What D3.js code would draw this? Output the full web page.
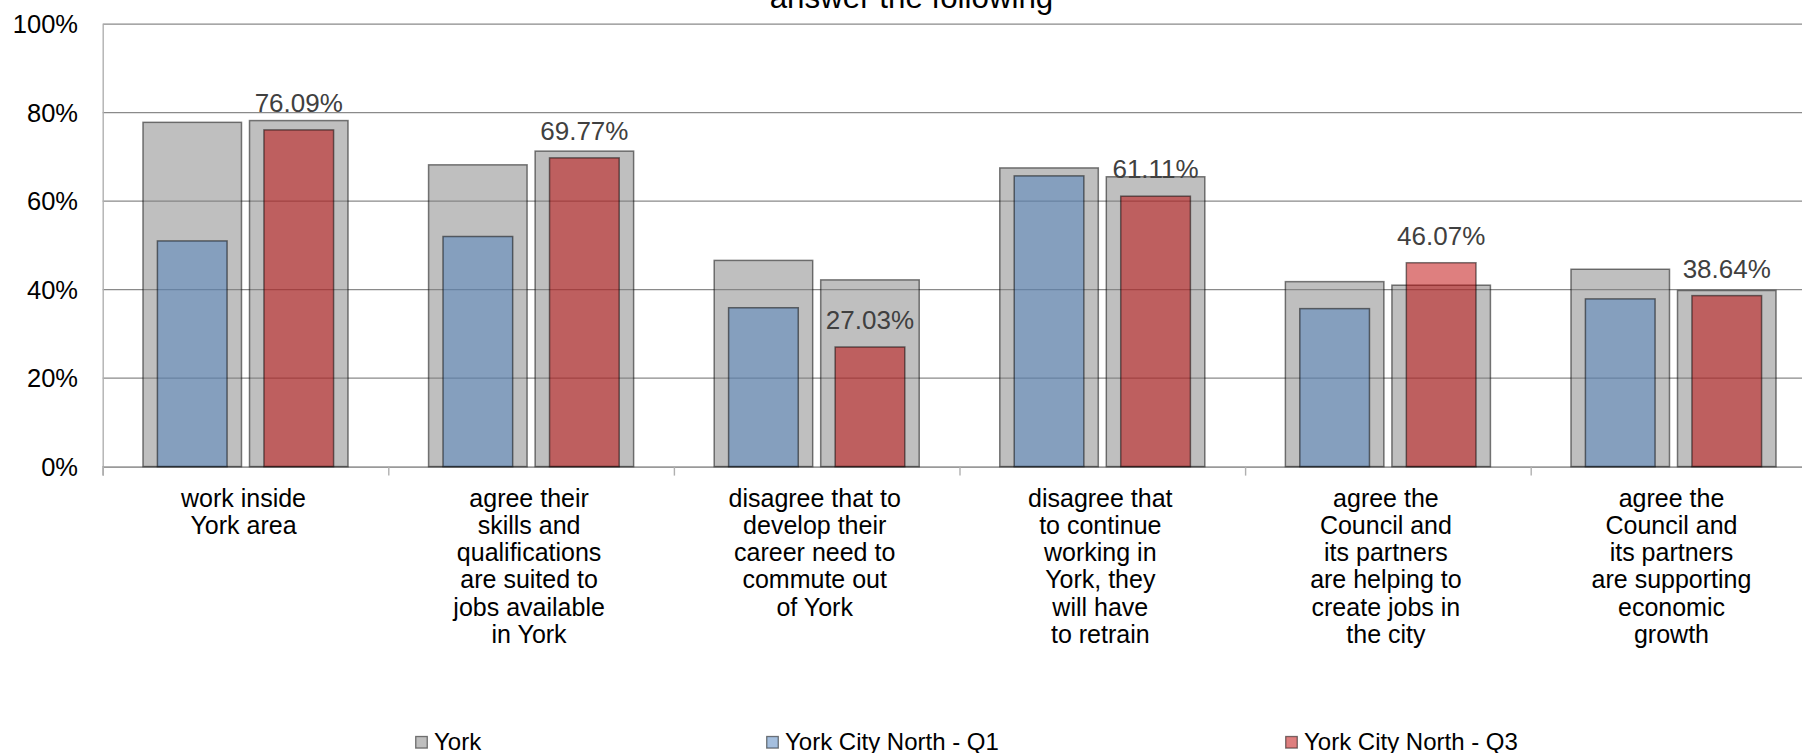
<!DOCTYPE html>
<html>
<head>
<meta charset="utf-8">
<script src="https://cdn.jsdelivr.net/npm/d3@7"></script>
<style>
  html, body { margin: 0; padding: 0; background: #fff; overflow: hidden; }
  svg { display: block; font-family: "Liberation Sans", Arial, sans-serif; }
</style>
</head>
<body>
<svg id="chart" width="1802" height="753"></svg>
<script>
// ---- data ----
const categories = [
  ["work inside", "York area"],
  ["agree their", "skills and", "qualifications", "are suited to", "jobs available", "in York"],
  ["disagree that to", "develop their", "career need to", "commute out", "of York"],
  ["disagree that", "to continue", "working in", "York, they", "will have", "to retrain"],
  ["agree the", "Council and", "its partners", "are helping to", "create jobs in", "the city"],
  ["agree the", "Council and", "its partners", "are supporting", "economic", "growth"]
];
const yorkQ1 = [77.8, 68.2, 46.6, 67.5, 41.8, 44.6];
const yorkQ3 = [78.2, 71.3, 42.2, 65.5, 41.0, 39.8];
const northQ1 = [51.0, 52.0, 35.9, 65.7, 35.7, 37.9];
const northQ3 = [76.09, 69.77, 27.03, 61.11, 46.07, 38.64];
const yTicks = [0, 20, 40, 60, 80, 100];
const seriesNames = ["York", "York City North - Q1", "York City North - Q3"];
const titleText = "answer the following";

// ---- layout ----
(function () {
const svg = d3.select("#chart");
const W = 1802, H = 753;
const pLeft = 102.7, pRight = 1816.3, pTop = 24.1, pBottom = 466.6;
const FONT = "'Liberation Sans', Arial, sans-serif";

const colors = {
  york: "#808080",
  q1: "#4c80be",
  q3: "#be0000"
};
const alpha = 0.5;

const idx = categories.map((d, i) => i);
const x0 = d3.scaleBand().domain(idx).range([pLeft, pRight]).padding(0);
const x1 = d3.scaleBand().domain(["Q1", "Q3"]).range([0, x0.bandwidth()])
  .paddingInner(0.075).paddingOuter(0.378);
const y = d3.scaleLinear().domain([0, 100]).range([pBottom, pTop]);

// title
svg.append("text")
  .attr("x", 911.5).attr("y", 7.5)
  .attr("text-anchor", "middle")
  .attr("font-size", 31.3).attr("fill", "#000")
  .text(titleText);

// gridlines
const grid = svg.append("g");
grid.selectAll("line").data(yTicks.filter(d => d > 0)).join("line")
  .attr("x1", pLeft).attr("x2", W)
  .attr("y1", d => y(d)).attr("y2", d => y(d))
  .attr("stroke", "#8a8a8a").attr("stroke-width", 1.4);

// y axis
const yAxis = d3.axisLeft(y).tickValues(yTicks).tickSize(0).tickPadding(24.7)
  .tickFormat(d => d + "%");
const gy = svg.append("g").attr("transform", `translate(${pLeft},0)`).call(yAxis);
gy.select(".domain").attr("stroke", "#b0b0b0").attr("stroke-width", 1.4);
gy.selectAll("text").attr("font-size", 25.5).attr("font-family", FONT).attr("fill", "#000")
  .attr("dy", "0.34em");

// x axis (ticks at category boundaries)
const boundaries = idx.map(i => x0(i)).concat([x0(idx[idx.length - 1]) + x0.bandwidth()]);
const xb = d3.scaleLinear().domain([pLeft, pRight]).range([pLeft, pRight]);
const xAxis = d3.axisBottom(xb).tickValues(boundaries).tickSize(9).tickFormat("");
const gx = svg.append("g").attr("transform", `translate(0,${pBottom})`).call(xAxis);
gx.select(".domain").attr("stroke", "#9a9a9a").attr("stroke-width", 1.6);
gx.selectAll(".tick line").attr("stroke", "#b0b0b0").attr("stroke-width", 1.4);

// bars
const bw = x1.bandwidth();
const cw = bw * 0.707;
const rows = idx.map(i => ({ i, yq1: yorkQ1[i], yq3: yorkQ3[i], n1: northQ1[i], n3: northQ3[i] }));

const barStroke = (sel) => sel.attr("stroke", "#000").attr("stroke-opacity", 0.5).attr("stroke-width", 1.5);

const gBars = svg.append("g");
["Q1", "Q3"].forEach(slot => {
  gBars.append("g").selectAll("rect").data(rows).join("rect")
    .attr("x", d => x0(d.i) + x1(slot))
    .attr("width", bw)
    .attr("y", d => y(slot === "Q1" ? d.yq1 : d.yq3))
    .attr("height", d => pBottom - y(slot === "Q1" ? d.yq1 : d.yq3))
    .attr("fill", colors.york).attr("fill-opacity", alpha)
    .call(barStroke);
});
gBars.append("g").selectAll("rect").data(rows).join("rect")
  .attr("x", d => x0(d.i) + x1("Q1") + (bw - cw) / 2)
  .attr("width", cw)
  .attr("y", d => y(d.n1))
  .attr("height", d => pBottom - y(d.n1))
  .attr("fill", colors.q1).attr("fill-opacity", alpha)
  .call(barStroke);
gBars.append("g").selectAll("rect").data(rows).join("rect")
  .attr("x", d => x0(d.i) + x1("Q3") + (bw - cw) / 2)
  .attr("width", cw)
  .attr("y", d => y(d.n3))
  .attr("height", d => pBottom - y(d.n3))
  .attr("fill", colors.q3).attr("fill-opacity", alpha)
  .call(barStroke);

// value labels on Q3
svg.append("g").selectAll("text").data(rows).join("text")
  .attr("x", d => x0(d.i) + x1("Q3") + bw / 2)
  .attr("y", d => y(d.n3) - 18)
  .attr("text-anchor", "middle")
  .attr("font-size", 26).attr("fill", "#404040")
  .text(d => d.n3.toFixed(2) + "%");

// category labels
const gCat = svg.append("g");
categories.forEach((lines, i) => {
  const cx = x0(i) + x0.bandwidth() / 2 - 2;
  const t = gCat.append("text")
    .attr("x", cx)
    .attr("y", 506.7)
    .attr("text-anchor", "middle")
    .attr("font-size", 25).attr("fill", "#000");
  lines.forEach((ln, k) => {
    t.append("tspan").attr("x", cx)
      .attr("dy", k === 0 ? 0 : 27.2).text(ln);
  });
});

// legend
const legendX = [415.7, 766.7, 1285.7];
const legendFill = [colors.york, colors.q1, colors.q3];
const gLeg = svg.append("g");
seriesNames.forEach((name, i) => {
  gLeg.append("rect")
    .attr("x", legendX[i]).attr("y", 736.5)
    .attr("width", 11.6).attr("height", 11.6)
    .attr("fill", legendFill[i]).attr("fill-opacity", alpha)
    .attr("stroke", "#000").attr("stroke-opacity", 0.5).attr("stroke-width", 1.3);
  gLeg.append("text")
    .attr("x", legendX[i] + 18.3).attr("y", 750)
    .attr("font-size", 24).attr("fill", "#000")
    .text(name);
});
})();
</script>
</body>
</html>
